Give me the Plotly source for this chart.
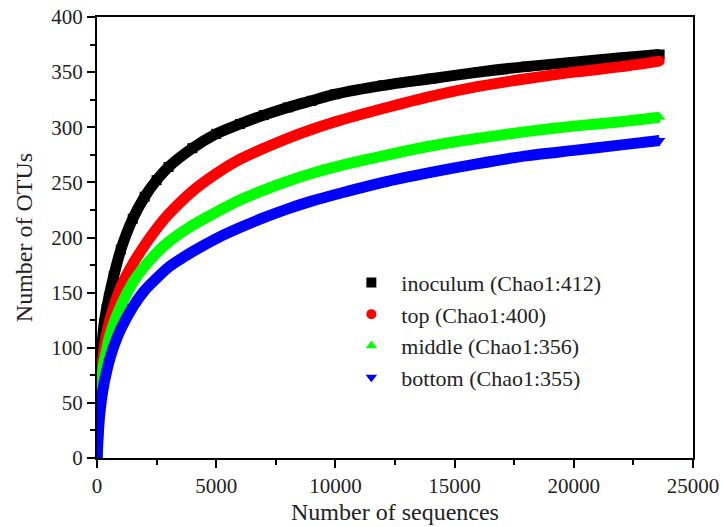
import plotly.graph_objects as go

# Sequencing depth (number of sequences) at which values were read
depth = [0, 100, 200, 300, 400, 500, 700, 1000, 1500, 2000, 2500, 3000, 4000, 5000,
         6000, 7000, 8000, 9000, 10000, 12000, 14000, 16000, 18000, 20000, 22000, 23600]

inoculum = [0, 70, 100, 122, 135, 146, 165, 189, 217, 237, 252, 264, 281, 294,
            303, 311, 318, 324, 330, 338, 344, 350, 355, 359, 363, 366]
top = [0, 58, 82, 100, 112, 122, 137, 155, 176, 193, 208, 221, 242, 258,
       271, 281, 290, 298, 305, 317, 328, 337, 344, 350, 355, 360]
middle = [0, 48, 72, 88, 98, 108, 122, 138, 159, 174, 186, 196, 211, 223,
          234, 243, 251, 258, 264, 274, 283, 290, 296, 301, 305, 309]
bottom = [0, 36, 55, 68, 78, 87, 101, 117, 137, 152, 163, 173, 187, 199,
          209, 218, 226, 233, 239, 250, 259, 267, 274, 279, 284, 288]

names = ["inoculum (Chao1:412)", "top (Chao1:400)", "middle (Chao1:356)", "bottom (Chao1:355)"]
series = [inoculum, top, middle, bottom]
colors = ["#000000", "#ff0000", "#00ff00", "#0000ff"]
symbols = ["square", "circle", "triangle-up", "triangle-down"]

fig = go.Figure()
for name, ys, col, sym in zip(names, series, colors, symbols):
    fig.add_trace(go.Scatter(x=depth, y=ys, mode="lines", showlegend=False,
                             line=dict(color=col, width=11, shape="spline", smoothing=0.8),
                             hoverinfo="skip"))
    fig.add_trace(go.Scatter(x=depth, y=ys, mode="markers", name=name,
                             marker=dict(color=col, symbol=sym, size=10, line=dict(width=0))))

font = "Liberation Serif, Times New Roman, serif"
axis_common = dict(showline=True, linecolor="black", linewidth=2, mirror=True,
                   ticks="outside", ticklen=8, tickwidth=2, tickcolor="black",
                   showgrid=False, zeroline=False, automargin=False,
                   tickfont=dict(family=font, size=21, color="#222"))

fig.update_xaxes(range=[0, 25000], tick0=0, dtick=5000, tickformat="d",
                 minor=dict(ticks="outside", ticklen=5, tickwidth=2, dtick=2500, tickcolor="black"),
                 title=dict(text="Number of sequences", font=dict(family=font, size=24, color="#222"), standoff=6),
                 **axis_common)
fig.update_yaxes(range=[0, 400], tick0=0, dtick=50, tickformat="d",
                 minor=dict(ticks="outside", ticklen=5, tickwidth=2, dtick=25, tickcolor="black"),
                 title=dict(text="Number of OTUs", font=dict(family=font, size=24, color="#222"), standoff=12),
                 **axis_common)

fig.update_layout(
    width=723, height=527,
    margin=dict(l=97, r=30, t=17, b=69),
    plot_bgcolor="white", paper_bgcolor="white",
    font=dict(family=font, size=21, color="#222"),
    legend=dict(x=0.41, y=0.445, xanchor="left", yanchor="top", itemwidth=50,
                bgcolor="rgba(0,0,0,0)", font=dict(family=font, size=22, color="#222"),
                tracegroupgap=0),
)

fig.write_html("out.html")
